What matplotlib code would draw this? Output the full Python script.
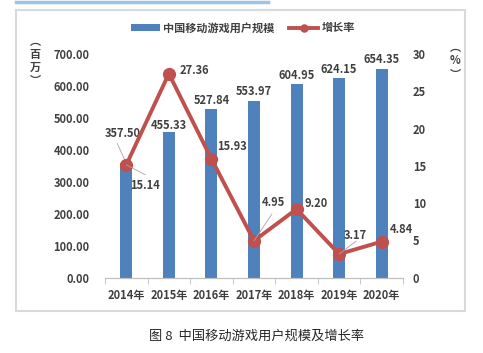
import matplotlib
matplotlib.use('Agg')
import matplotlib.pyplot as plt
from matplotlib.patches import Rectangle
from matplotlib.lines import Line2D

plt.rcParams['font.family'] = ['Noto Sans CJK SC', 'DejaVu Sans']

years = ['2014年', '2015年', '2016年', '2017年', '2018年', '2019年', '2020年']
users = [357.50, 455.33, 527.84, 553.97, 604.95, 624.15, 654.35]
growth = [15.14, 27.36, 15.93, 4.95, 9.20, 3.17, 4.84]

BLUE = '#4f81bd'
RED = '#c0504d'
TXT = '#404040'

W, H = 483, 353
fig = plt.figure(figsize=(W / 100, H / 100), dpi=100)

# outer frame + blue strip at top
fig.patches.append(Rectangle((16 / W, 1 - 311 / H), 449 / W, 301 / H, transform=fig.transFigure,
                             fill=False, edgecolor='#d9d9d9', linewidth=1.5))
fig.add_artist(Line2D([16 / W, 268 / W], [1 - 1.5 / H, 1 - 1.5 / H], color='#9dc3e6', lw=2.5,
                      transform=fig.transFigure))

ax = fig.add_axes([105 / W, 1 - 277.7 / H, 298 / W, 223.7 / H])
ax2 = ax.twinx()
x = range(len(years))

bars = ax.bar(x, users, width=0.28, color=BLUE, zorder=2, label='中国移动游戏用户规模')
line, = ax2.plot(x, growth, color=RED, lw=2.8, marker='o', markersize=8.5, zorder=3, label='增长率')

ax.set_xlim(-0.5, 6.5)
ax.set_ylim(0, 700)
ax2.set_ylim(0, 30)
ax.set_yticks(range(0, 701, 100))
ax.set_yticklabels(['%.2f' % v for v in range(0, 701, 100)])
ax2.set_yticks(range(0, 31, 5))

for a in (ax, ax2):
    for s in ('top', 'left', 'right'):
        a.spines[s].set_visible(False)
    a.spines['bottom'].set_color('#bfbfbf')
ax.tick_params(axis='y', length=0, pad=11, labelsize=8, labelcolor=TXT)
ax2.tick_params(axis='y', length=0, pad=7, labelsize=8, labelcolor=TXT)
for t in ax.get_yticklabels() + ax2.get_yticklabels():
    t.set_fontweight('bold')

ax.set_xticks(list(x))
ax.set_xticklabels(years, fontsize=8, fontweight='bold', color=TXT)
ax.tick_params(axis='x', length=0, pad=8)
ax.set_xticks([i - 0.5 for i in range(len(years) + 1)], minor=True)
ax.tick_params(axis='x', which='minor', length=4, color='#bfbfbf', direction='out')

lab = dict(fontsize=8, fontweight='bold', color=TXT, textcoords='offset pixels')
lead = dict(arrowstyle='-', color='#a6a6a6', lw=0.6, shrinkA=0, shrinkB=0)


def leader(a, i, val, dx, dy):
    a.annotate('', (i, val), xytext=(dx, dy), textcoords='offset pixels', arrowprops=lead)


# bar labels
ax.annotate('%.2f' % users[0], (0, users[0]), xytext=(-4, 30), ha='center', va='center', **lab)
leader(ax, 0, users[0], -9, 20)
ax.annotate('%.2f' % users[1], (1, users[1]), xytext=(0, 7), ha='center', va='center', **lab)
for i in range(2, len(users)):
    ax.annotate('%.2f' % users[i], (i, users[i]), xytext=(0, 9), ha='center', va='center', **lab)

# growth labels
offs = {1: (11, 3), 2: (6, 12), 4: (8, 6), 6: (8, 12)}
for i, (dx, dy) in offs.items():
    ax2.annotate('%.2f' % growth[i], (i, growth[i]), xytext=(dx, dy), ha='left', va='center', **lab)
ax2.annotate('%.2f' % growth[0], (0, growth[0]), xytext=(4, -21), ha='left', va='center', **lab)
leader(ax2, 0, growth[0], 19, -10)
ax2.annotate('%.2f' % growth[3], (3, growth[3]), xytext=(8, 38), ha='left', va='center', **lab)
leader(ax2, 3, growth[3], 18, 27)
ax2.annotate('%.2f' % growth[5], (5, growth[5]), xytext=(5, 19), ha='left', va='center', **lab)
leader(ax2, 5, growth[5], 17, 13)

# unit labels
fig.text(35 / W, 1 - 61 / H, '︵\n百\n万\n︶', ha='center', va='center', fontsize=8,
         fontweight='bold', color=TXT, linespacing=1.0)
fig.text(455 / W, 1 - 61 / H, '︵\n%\n︶', ha='center', va='center', fontsize=8,
         fontweight='bold', color=TXT, linespacing=1.0)

fig.legend(handles=[bars, line], loc='center', bbox_to_anchor=(243 / W, 1 - 28 / H), ncol=2,
           frameon=False, handlelength=2.6, handleheight=0.5, columnspacing=1.3,
           handletextpad=0.3, prop={'weight': 'bold', 'size': 8}, markerscale=0.6)
for t in fig.legends[0].get_texts():
    t.set_color(TXT)

fig.text(257 / W, 1 - 336 / H, '图 8  中国移动游戏用户规模及增长率', ha='center', va='center',
         fontsize=9.5, color='#262626')

fig.savefig('out.png', dpi=100)
